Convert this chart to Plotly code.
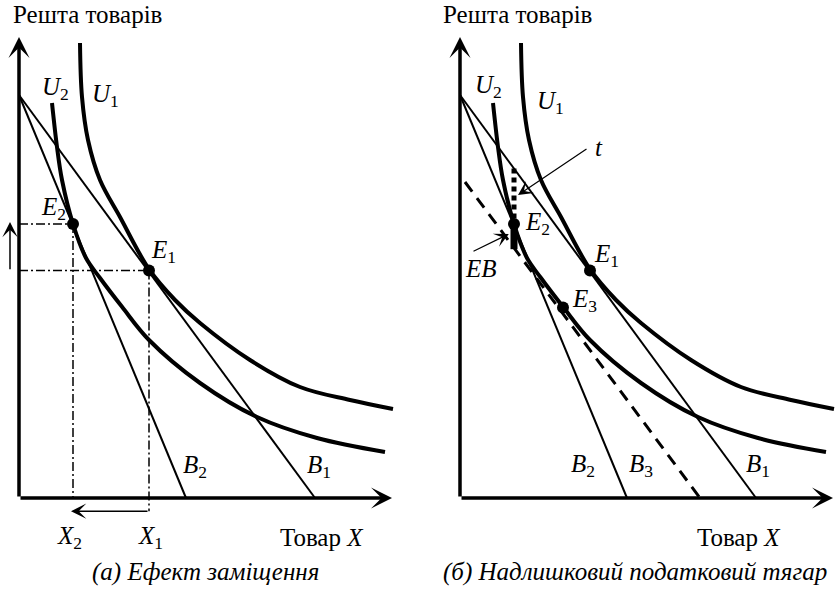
import plotly.graph_objects as go

# ---------------- data (diagram units) ----------------
# indifference curves (same shape in both panels)
u1_x = [1.525, 1.575, 1.725, 2.025, 2.525, 3.25, 3.9, 4.525, 5.775, 7.025, 8.275, 9.35]
u1_y = [11.375, 10.025, 8.95, 7.95, 7.025, 5.72, 4.95, 4.375, 3.45, 2.775, 2.45, 2.225]
u2_x = [0.825, 0.95, 1.075, 1.35, 1.675, 2.025, 2.575, 3.25, 4.525, 5.95, 7.45, 9.15]
u2_y = [9.875, 8.775, 7.95, 6.85, 6.0, 5.5, 4.78, 3.95, 2.875, 2.025, 1.5, 1.15]

# budget lines: y-intercept and x-intercepts
y_intercept = 10.075
b1_x_int = 7.4
b2_x_int = 4.175
b3_x = [0.125, 6.0]
b3_y = [7.9, 0.0]

# equilibrium points
e1 = (3.25, 5.69)
e2 = (1.35, 6.85)
e3 = (2.575, 4.76)

# axis extents
x_axis_end = 9.325
y_axis_end = 11.525

# tax wedge segments (panel b)
t_top = 8.24
eb_bottom = 6.22

# text
y_title = "Решта товарів"
x_title = "Товар <i>X</i>"
caption_a = "<i>(а) Ефект заміщення</i>"
caption_b = "<i>(б) Надлишковий податковий тягар</i>"

FONT = "Liberation Serif"
BLACK = "#000000"

fig = go.Figure()


def line(xs, ys, panel, width=2, dash=None, shape="linear"):
    fig.add_trace(go.Scatter(
        x=xs, y=ys, mode="lines",
        line=dict(color=BLACK, width=width, dash=dash, shape=shape, smoothing=1.0),
        xaxis="x" if panel == 1 else "x2",
        yaxis="y" if panel == 1 else "y2",
        hoverinfo="skip", showlegend=False,
    ))


def dots(pts, panel):
    fig.add_trace(go.Scatter(
        x=[p[0] for p in pts], y=[p[1] for p in pts], mode="markers",
        marker=dict(color=BLACK, size=12),
        xaxis="x" if panel == 1 else "x2",
        yaxis="y" if panel == 1 else "y2",
        hoverinfo="skip", showlegend=False,
    ))


annotations = []


def arrow(x0, y0, x1, y1, panel, width, size, head=3):
    xr = "x" if panel == 1 else "x2"
    yr = "y" if panel == 1 else "y2"
    annotations.append(dict(
        x=x1, y=y1, ax=x0, ay=y0, xref=xr, yref=yr, axref=xr, ayref=yr,
        text="", showarrow=True, arrowhead=head, arrowsize=size,
        arrowwidth=width, arrowcolor=BLACK,
    ))


def label(text, x, y, panel, size=25, xanchor="center"):
    annotations.append(dict(
        x=x, y=y, xref="x" if panel == 1 else "x2", yref="y" if panel == 1 else "y2",
        text=text, showarrow=False, xanchor=xanchor, yanchor="middle",
        font=dict(family=FONT, size=size, color=BLACK),
    ))


for p in (1, 2):
    # curves
    line(u1_x, u1_y, p, width=4, shape="spline")
    line(u2_x, u2_y, p, width=4, shape="spline")
    # budget lines
    line([0, b1_x_int], [y_intercept, 0], p, width=2)
    line([0, b2_x_int], [y_intercept, 0], p, width=2)
    # axes with arrows
    arrow(0, 0, 0, y_axis_end, p, 3.5, 1.0)
    arrow(0, 0, x_axis_end, 0, p, 3.5, 1.0)

# ---- panel (a) ----
dd = "9px,3px,2px,3px"
line([0, e2[0]], [e2[1], e2[1]], 1, width=1.5, dash=dd)
line([0, e1[0]], [e1[1], e1[1]], 1, width=1.5, dash=dd)
line([e2[0], e2[0]], [e2[1], 0], 1, width=1.5, dash=dd)
line([e1[0], e1[0]], [e1[1], -0.33], 1, width=1.5, dash=dd)
dots([e1, e2], 1)
arrow(-0.225, 5.68, -0.225, 6.9, 1, 1.5, 1.7)
arrow(e1[0], -0.33, e2[0] - 0.05, -0.33, 1, 1.5, 1.7)

label(y_title, -0.2, 12.1, 1, xanchor="left")
label("<i>U</i><sub>2</sub>", 0.9, 10.25, 1)
label("<i>U</i><sub>1</sub>", 2.15, 10.075, 1)
label("<i>E</i><sub>2</sub>", 0.85, 7.25, 1)
label("<i>E</i><sub>1</sub>", 3.6, 6.175, 1)
label("<i>B</i><sub>2</sub>", 4.4, 0.8, 1)
label("<i>B</i><sub>1</sub>", 7.5, 0.8, 1)
label("<i>X</i><sub>2</sub>", 1.25, -0.975, 1)
label("<i>X</i><sub>1</sub>", 3.275, -0.975, 1)
label(x_title, 7.575, -0.975, 1)
label(caption_a, 4.65, -1.85, 1)

# ---- panel (b) ----
line(b3_x, b3_y, 2, width=3, dash="12px,8px")
line([e2[0], e2[0]], [t_top, e2[1]], 2, width=5, dash="5px,4px")
line([e2[0], e2[0]], [e2[1], eb_bottom], 2, width=7)
dots([e1, e2, e3], 2)
arrow(3.2, 8.75, 1.45, 7.575, 2, 1.2, 2.0)
arrow(0.3, 6.15, 1.22, 6.6, 2, 1.2, 2.0)

label(y_title, -0.475, 12.1, 2, xanchor="left")
label("<i>U</i><sub>2</sub>", 0.7, 10.3, 2)
label("<i>U</i><sub>1</sub>", 2.25, 9.9, 2)
label("<i>t</i>", 3.475, 8.775, 2)
label("<i>E</i><sub>2</sub>", 1.925, 6.875, 2)
label("<i>EB</i>", 0.525, 5.75, 2)
label("<i>E</i><sub>1</sub>", 3.65, 6.075, 2)
label("<i>E</i><sub>3</sub>", 3.1, 4.95, 2)
label("<i>B</i><sub>2</sub>", 3.075, 0.825, 2)
label("<i>B</i><sub>3</sub>", 4.525, 0.825, 2)
label("<i>B</i><sub>1</sub>", 7.45, 0.825, 2)
label(x_title, 6.975, -0.975, 2)
label(caption_b, 4.375, -1.85, 2)

ax_common = dict(visible=False, showgrid=False, zeroline=False, fixedrange=True)
fig.update_layout(
    width=837, height=589,
    margin=dict(l=0, r=0, t=0, b=0),
    paper_bgcolor="white", plot_bgcolor="white",
    showlegend=False,
    xaxis=dict(domain=[0, 0.5], range=[-0.475, 9.9875], **ax_common),
    yaxis=dict(domain=[0, 1], range=[-2.275, 12.45], **ax_common),
    xaxis2=dict(domain=[0.5, 1], range=[-1.0375, 9.425], **ax_common),
    yaxis2=dict(domain=[0, 1], range=[-2.275, 12.45], anchor="x2", **ax_common),
    annotations=annotations,
    font=dict(family=FONT, color=BLACK),
)

fig.write_html(
    "out.html",
    config={"displayModeBar": False},
    post_script="document.body.style.margin='0';document.body.style.overflow='hidden';",
)
